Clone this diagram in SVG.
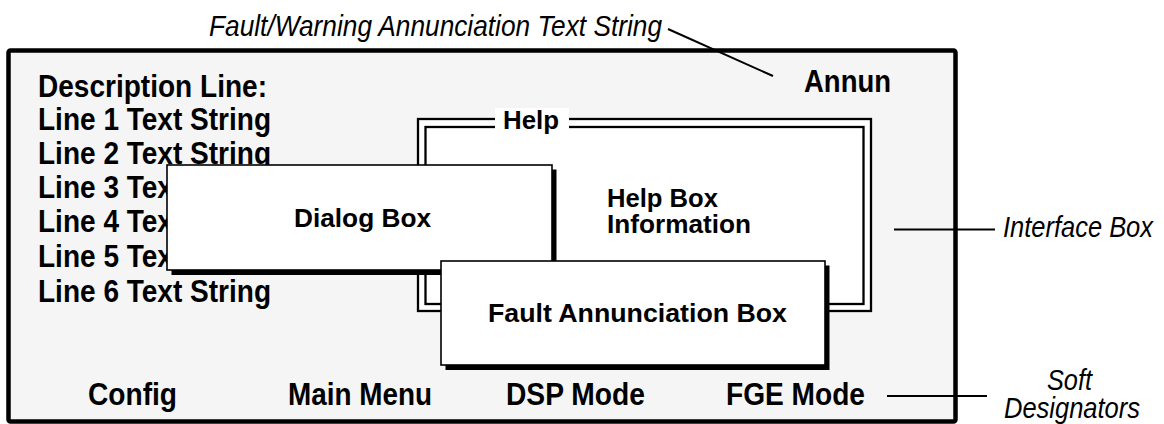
<svg xmlns="http://www.w3.org/2000/svg" width="1164" height="424" viewBox="0 0 1164 424">
  <defs>
    <style>
      .bc { font-family: "Liberation Sans", Arial, sans-serif; font-weight: bold; font-size: 32px; fill: #000; }
      .bx { font-family: "Liberation Sans", Arial, sans-serif; font-weight: bold; font-size: 25px; fill: #000; }
      .it { font-family: "Liberation Sans", Arial, sans-serif; font-style: italic; font-size: 30px; fill: #000; }
      .frame { fill: #f5f5f5; stroke: #000; stroke-width: 4.5; }
      .win { fill: #fff; stroke: #000; stroke-width: 1.6; }
      .shadow { fill: #000; }
      .dbl { fill: none; stroke: #000; stroke-width: 2.3; }
      .lead { stroke: #000; stroke-width: 2; fill: none; }
    </style>
  </defs>

  <!-- Interface box (screen frame) -->
  <g id="interface-box">
    <rect class="frame" x="8.5" y="50.5" width="947" height="371" rx="2"/>
    <text class="bc" x="38" y="96.5" textLength="229" lengthAdjust="spacingAndGlyphs">Description Line:</text>
    <text class="bc" x="38" y="130" textLength="233" lengthAdjust="spacingAndGlyphs">Line 1 Text String</text>
    <text class="bc" x="38" y="164" textLength="233" lengthAdjust="spacingAndGlyphs">Line 2 Text String</text>
    <text class="bc" x="38" y="198" textLength="233" lengthAdjust="spacingAndGlyphs">Line 3 Text String</text>
    <text class="bc" x="38" y="232" textLength="233" lengthAdjust="spacingAndGlyphs">Line 4 Text String</text>
    <text class="bc" x="38" y="267" textLength="233" lengthAdjust="spacingAndGlyphs">Line 5 Text String</text>
    <text class="bc" x="38" y="301.5" textLength="233" lengthAdjust="spacingAndGlyphs">Line 6 Text String</text>
    <text class="bc" x="804" y="92" textLength="87" lengthAdjust="spacingAndGlyphs">Annun</text>
  </g>

  <!-- Help box with double border -->
  <g id="help-box">
    <rect x="418" y="119" width="453" height="192" fill="#fff" stroke="none"/>
    <rect class="dbl" x="418" y="119" width="453" height="192"/>
    <rect class="dbl" x="425.5" y="127" width="438" height="177"/>
    <rect x="495" y="108" width="74" height="24" fill="#fff"/>
    <text class="bx" x="503" y="129" font-size="24" textLength="56" lengthAdjust="spacingAndGlyphs">Help</text>
    <text class="bx" x="607" y="207" textLength="111" lengthAdjust="spacingAndGlyphs">Help Box</text>
    <text class="bx" x="607" y="233" textLength="144" lengthAdjust="spacingAndGlyphs">Information</text>
  </g>

  <!-- Dialog box -->
  <g id="dialog-box">
    <rect class="shadow" x="171.5" y="169.5" width="385" height="105.5"/>
    <rect class="win" x="167" y="165" width="385" height="105"/>
    <text class="bx" x="294" y="227" textLength="137" lengthAdjust="spacingAndGlyphs">Dialog Box</text>
  </g>

  <!-- Fault annunciation box -->
  <g id="fault-box">
    <rect class="shadow" x="445.5" y="265.5" width="384" height="104.5"/>
    <rect class="win" x="441" y="261" width="384" height="104"/>
    <text class="bx" x="488" y="322" textLength="299" lengthAdjust="spacingAndGlyphs">Fault Annunciation Box</text>
  </g>

  <!-- Soft key designators -->
  <g id="soft-designators">
    <text class="bc" x="88" y="405" textLength="89" lengthAdjust="spacingAndGlyphs">Config</text>
    <text class="bc" x="288" y="405" textLength="144" lengthAdjust="spacingAndGlyphs">Main Menu</text>
    <text class="bc" x="506" y="405" textLength="139" lengthAdjust="spacingAndGlyphs">DSP Mode</text>
    <text class="bc" x="726" y="405" textLength="139" lengthAdjust="spacingAndGlyphs">FGE Mode</text>
  </g>

  <!-- Callout leader lines -->
  <g id="connectors">
    <line class="lead" x1="668" y1="29" x2="773" y2="76"/>
    <line class="lead" x1="894" y1="229.5" x2="995" y2="229.5"/>
    <line class="lead" x1="887" y1="396" x2="987" y2="396"/>
  </g>

  <!-- Callout labels -->
  <g id="callout-annunciation">
    <text class="it" x="209" y="36" textLength="453" lengthAdjust="spacingAndGlyphs">Fault/Warning Annunciation Text String</text>
  </g>
  <g id="callout-interface">
    <text class="it" x="1003" y="237" textLength="150" lengthAdjust="spacingAndGlyphs">Interface Box</text>
  </g>
  <g id="callout-soft">
    <text class="it" x="1047" y="390" font-size="29" textLength="45" lengthAdjust="spacingAndGlyphs">Soft</text>
    <text class="it" x="1004" y="418" font-size="29" textLength="136" lengthAdjust="spacingAndGlyphs">Designators</text>
  </g>
</svg>
